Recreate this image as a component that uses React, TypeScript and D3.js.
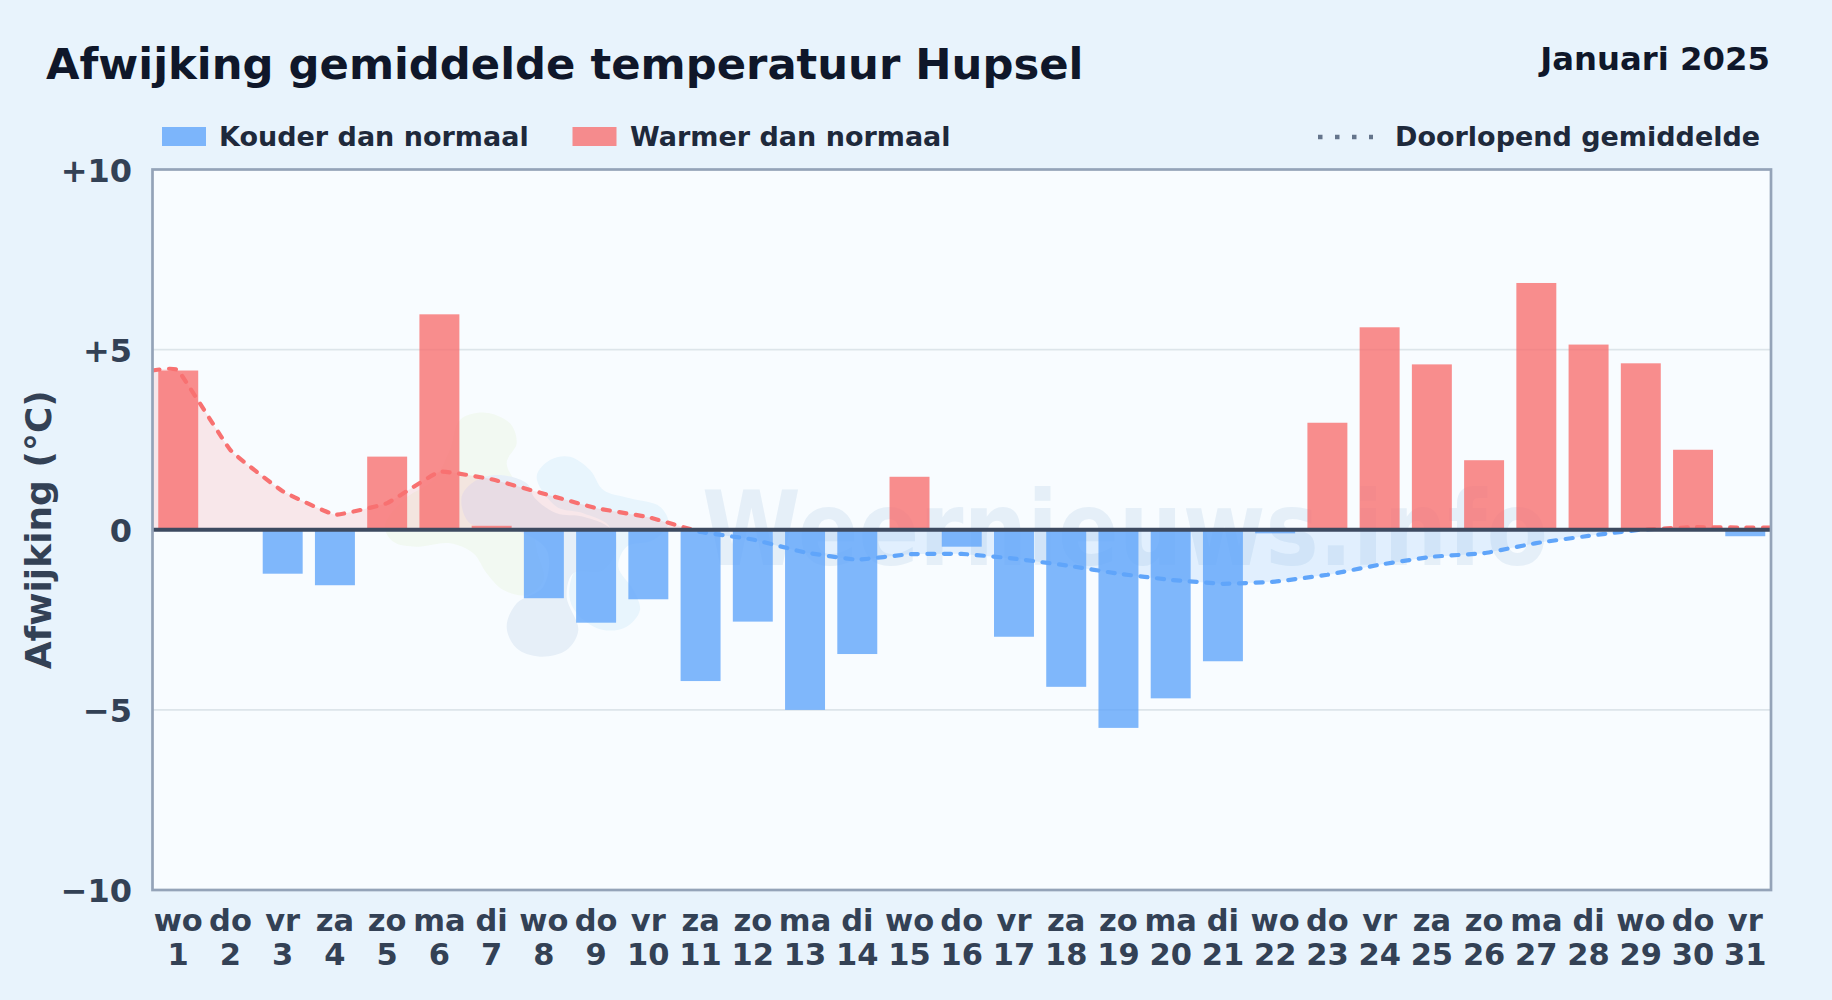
import { useEffect, useRef } from 'react'
import * as d3 from 'd3'

const WEEKDAYS = ['wo', 'do', 'vr', 'za', 'zo', 'ma', 'di', 'wo', 'do', 'vr', 'za', 'zo', 'ma', 'di', 'wo', 'do', 'vr', 'za', 'zo', 'ma', 'di', 'wo', 'do', 'vr', 'za', 'zo', 'ma', 'di', 'wo', 'do', 'vr']
const DAYS = [1, 2, 3, 4, 5, 6, 7, 8, 9, 10, 11, 12, 13, 14, 15, 16, 17, 18, 19, 20, 21, 22, 23, 24, 25, 26, 27, 28, 29, 30, 31]

// Afwijking per dag (°C)
const DEVIATION = [4.42, 0, -1.22, -1.54, 2.03, 5.98, 0.11, -1.9, -2.58, -1.93, -4.2, -2.55, -5.0, -3.45, 1.47, -0.47, -2.97, -4.36, -5.5, -4.68, -3.65, -0.1, 2.97, 5.62, 4.59, 1.93, 6.85, 5.14, 4.62, 2.22, -0.18]
const RUNNING_AVG = [4.42, 2.21, 1.07, 0.42, 0.74, 1.61, 1.4, 1.0, 0.6, 0.35, -0.06, -0.27, -0.63, -0.83, -0.68, -0.67, -0.8, -0.99, -1.22, -1.39, -1.5, -1.44, -1.25, -0.97, -0.75, -0.65, -0.37, -0.17, 0.0, 0.07, 0.06]

const Y_TICKS = [10, 5, 0, -5, -10]
const Y_TICK_LABELS = ['+10', '+5', '0', '−5', '−10']

const RED = '#f87171'
const BLUE = '#60a5fa'
const FONT = '"DejaVu Sans", sans-serif'

// Logo blobs behind the chart, in crop units (translate 370,400 scale 1/3)
const LOGO_GREEN: [number, number][] = [[345, 38], [420, 70], [440, 130], [410, 190], [470, 300], [500, 450], [520, 540], [470, 585], [400, 570], [350, 520], [310, 460], [240, 430], [140, 440], [70, 425], [45, 380], [100, 300], [190, 240], [240, 150], [270, 60]]
const LOGO_GREY: [number, number][] = [[275, 290], [320, 240], [390, 225], [470, 250], [495, 295], [560, 340], [640, 350], [720, 385], [740, 440], [700, 510], [610, 520], [590, 590], [625, 690], [590, 750], [510, 770], [440, 745], [410, 680], [440, 610], [520, 560], [530, 450], [420, 385], [300, 370]]
const LOGO_BLUE: [number, number][] = [[500, 230], [540, 180], [600, 170], [660, 210], [700, 270], [780, 295], [870, 320], [895, 370], [850, 420], [770, 440], [745, 500], [790, 570], [810, 630], [770, 680], [700, 690], [630, 650], [600, 600], [610, 520], [720, 385], [640, 340], [560, 320]]

export default function App() {
  const svgRef = useRef<SVGSVGElement>(null)

  useEffect(() => {
    if (!svgRef.current) return
    document.body.style.margin = '0'

    const width = 1832
    const height = 1000
    const margin = { top: 169.5, right: 61, bottom: 110, left: 152.5 }
    const right = width - margin.right
    const bottom = height - margin.bottom

    const x = d3
      .scaleBand<number>()
      .domain(DAYS)
      .range([margin.left, right])
      .paddingInner(0.235)
      .paddingOuter(0.11)
    const y = d3.scaleLinear().domain([-10, 10]).range([bottom, margin.top])
    const cx = (d: number) => (x(d) as number) + x.bandwidth() / 2

    d3.select(svgRef.current).selectAll('*').remove()
    const svg = d3.select(svgRef.current).attr('width', width).attr('height', height)

    // ---- Background ----
    svg.append('rect').attr('width', width).attr('height', height).attr('fill', '#e8f3fc')
    svg
      .append('rect')
      .attr('x', margin.left)
      .attr('y', margin.top)
      .attr('width', right - margin.left)
      .attr('height', bottom - margin.top)
      .attr('fill', '#f8fcff')

    const defs = svg.append('defs')
    defs
      .append('clipPath')
      .attr('id', 'above')
      .append('rect')
      .attr('x', margin.left)
      .attr('y', margin.top)
      .attr('width', right - margin.left)
      .attr('height', y(0) - margin.top)
    defs
      .append('clipPath')
      .attr('id', 'below')
      .append('rect')
      .attr('x', margin.left)
      .attr('y', y(0))
      .attr('width', right - margin.left)
      .attr('height', bottom - y(0))

    // ---- Watermark ----
    const blob = d3.line().curve(d3.curveCatmullRomClosed.alpha(0.5))
    const logo = svg.append('g').attr('transform', 'translate(370,400) scale(0.3333)')
    logo.append('path').attr('d', blob(LOGO_GREEN)).attr('fill', '#f2f9f2')
    logo.append('path').attr('d', blob(LOGO_BLUE)).attr('fill', '#e8f5fd')
    logo.append('path').attr('d', blob(LOGO_GREY)).attr('fill', '#e6eff8')

    svg
      .append('text')
      .attr('x', 702)
      .attr('y', 565)
      .attr('textLength', 846)
      .attr('lengthAdjust', 'spacingAndGlyphs')
      .attr('font-family', FONT)
      .attr('font-weight', 'bold')
      .attr('font-size', 103)
      .attr('fill', '#e5eff8')
      .text('Weernieuws.info')

    // ---- Grid ----
    svg
      .append('g')
      .selectAll('line')
      .data([5, -5])
      .join('line')
      .attr('x1', margin.left)
      .attr('x2', right)
      .attr('y1', (d) => y(d))
      .attr('y2', (d) => y(d))
      .attr('stroke', '#dde5ea')
      .attr('stroke-width', 1.6)

    // ---- Running average area + line, split at zero ----
    const avgPoints: [number, number][] = [
      [margin.left, RUNNING_AVG[0]],
      ...DAYS.map((d, i): [number, number] => [cx(d), RUNNING_AVG[i]]),
      [right, RUNNING_AVG[RUNNING_AVG.length - 1]],
    ]
    const curve = d3.curveCardinal.tension(0.7)
    const area = d3
      .area<[number, number]>()
      .x((d) => d[0])
      .y0(y(0))
      .y1((d) => y(d[1]))
      .curve(curve)
    const line = d3
      .line<[number, number]>()
      .x((d) => d[0])
      .y((d) => y(d[1]))
      .curve(curve)

    svg.append('path').attr('d', area(avgPoints)).attr('fill', RED).attr('opacity', 0.15).attr('clip-path', 'url(#above)')
    svg.append('path').attr('d', area(avgPoints)).attr('fill', BLUE).attr('opacity', 0.15).attr('clip-path', 'url(#below)')

    // ---- Bars ----
    svg
      .append('g')
      .selectAll('rect')
      .data(DAYS)
      .join('rect')
      .attr('x', (d) => x(d) as number)
      .attr('width', x.bandwidth())
      .attr('y', (_, i) => y(Math.max(0, DEVIATION[i])))
      .attr('height', (_, i) => Math.abs(y(DEVIATION[i]) - y(0)))
      .attr('fill', (_, i) => (DEVIATION[i] >= 0 ? RED : BLUE))
      .attr('opacity', 0.8)

    for (const [clip, color] of [['above', RED], ['below', BLUE]]) {
      svg
        .append('path')
        .attr('d', line(avgPoints))
        .attr('fill', 'none')
        .attr('stroke', color)
        .attr('stroke-width', 4.2)
        .attr('stroke-linecap', 'round')
        .attr('stroke-dasharray', '7 9.5')
        .attr('clip-path', `url(#${clip})`)
    }

    // ---- Zero line + frame ----
    svg
      .append('line')
      .attr('x1', margin.left)
      .attr('x2', right)
      .attr('y1', y(0))
      .attr('y2', y(0))
      .attr('stroke', '#3d4a60')
      .attr('stroke-width', 3.8)
    svg
      .append('rect')
      .attr('x', margin.left)
      .attr('y', margin.top)
      .attr('width', right - margin.left)
      .attr('height', bottom - margin.top)
      .attr('fill', 'none')
      .attr('stroke', '#94a3b8')
      .attr('stroke-width', 2.7)

    // ---- Axes ----
    const yAxis = svg
      .append('g')
      .attr('transform', `translate(${margin.left},0)`)
      .call(
        d3
          .axisLeft(y)
          .tickValues(Y_TICKS)
          .tickSize(0)
          .tickPadding(20.5)
          .tickFormat((_, i) => Y_TICK_LABELS[i]),
      )
    yAxis.select('.domain').remove()
    yAxis
      .selectAll('text')
      .attr('font-family', FONT)
      .attr('font-weight', 'bold')
      .attr('font-size', 32)
      .attr('fill', '#334155')
      .attr('dy', '0.37em')

    const xAxis = svg
      .append('g')
      .attr('transform', `translate(0,${bottom})`)
      .call(d3.axisBottom(x).tickSize(0).tickFormat(() => ''))
    xAxis.select('.domain').remove()
    xAxis
      .selectAll<SVGTextElement, number>('text')
      .attr('font-family', FONT)
      .attr('font-weight', 'bold')
      .attr('font-size', 30.5)
      .attr('fill', '#334155')
      .attr('y', 0)
      .attr('dy', 0)
      .each(function (d) {
        const t = d3.select(this)
        t.append('tspan').attr('x', 0).attr('y', 40.5).text(WEEKDAYS[d - 1])
        t.append('tspan').attr('x', 0).attr('y', 75).text(String(d))
      })

    svg
      .append('text')
      .attr('transform', `translate(50.5,${y(0)}) rotate(-90)`)
      .attr('text-anchor', 'middle')
      .attr('font-family', FONT)
      .attr('font-weight', 'bold')
      .attr('font-size', 36)
      .attr('fill', '#334155')
      .text('Afwijking (°C)')

    // ---- Titles ----
    svg
      .append('text')
      .attr('x', 46)
      .attr('y', 79)
      .attr('font-family', FONT)
      .attr('font-weight', 'bold')
      .attr('font-size', 43.3)
      .attr('fill', '#0f172a')
      .text('Afwijking gemiddelde temperatuur Hupsel')
    svg
      .append('text')
      .attr('x', 1770)
      .attr('y', 70)
      .attr('text-anchor', 'end')
      .attr('font-family', FONT)
      .attr('font-weight', 'bold')
      .attr('font-size', 32.3)
      .attr('fill', '#0f172a')
      .text('Januari 2025')

    // ---- Legend ----
    const legendText = (tx: number, label: string) =>
      svg
        .append('text')
        .attr('x', tx)
        .attr('y', 146)
        .attr('font-family', FONT)
        .attr('font-weight', 'bold')
        .attr('font-size', 27)
        .attr('fill', '#1e293b')
        .text(label)
    const swatch = (sx: number, color: string) =>
      svg
        .append('rect')
        .attr('x', sx)
        .attr('y', 127)
        .attr('width', 44)
        .attr('height', 19)
        .attr('fill', color)
        .attr('opacity', 0.8)

    swatch(162, BLUE)
    legendText(219, 'Kouder dan normaal')
    swatch(572.5, RED)
    legendText(630, 'Warmer dan normaal')
    svg
      .append('line')
      .attr('x1', 1318)
      .attr('x2', 1373)
      .attr('y1', 137)
      .attr('y2', 137)
      .attr('stroke', '#64748b')
      .attr('stroke-width', 4.5)
      .attr('stroke-dasharray', '4.5 12.5')
    legendText(1395, 'Doorlopend gemiddelde')
  }, [])

  return <svg ref={svgRef} style={{ display: 'block' }} />
}
